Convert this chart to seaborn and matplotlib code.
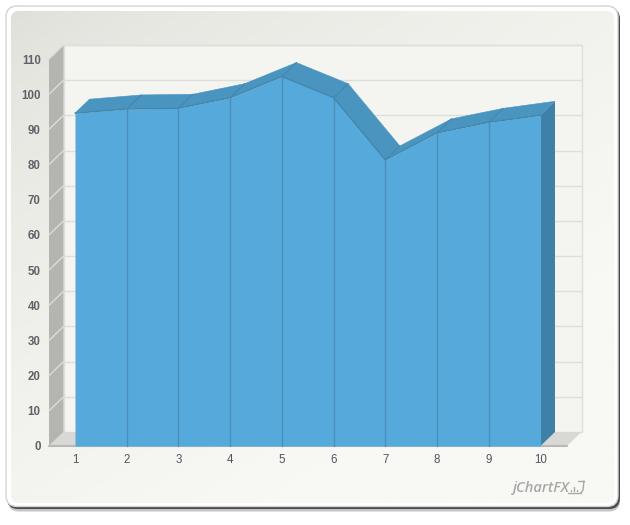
import numpy as np
import pandas as pd
import seaborn as sns
import matplotlib
matplotlib.use("Agg")
import matplotlib.pyplot as plt
from matplotlib.patches import FancyBboxPatch, Polygon, Rectangle

categories = [1, 2, 3, 4, 5, 6, 7, 8, 9, 10]
values = [94.6, 95.8, 96.0, 99.0, 105.0, 99.0, 81.3, 89.0, 92.0, 94.0]
y_ticks = list(range(0, 111, 10))

W, H = 630, 525
sns.set_theme(style="white")
plt.rcParams["font.family"] = ["Liberation Sans", "DejaVu Sans"]

fig = plt.figure(figsize=(W / 100, H / 100), dpi=100, facecolor="white")


def fx(px):
    return px / W


def fy(py):
    return 1 - py / H


# Panel background in a full-figure axes working in pixels
bg = fig.add_axes([0, 0, 1, 1], zorder=0)
bg.axis("off")
box = dict(boxstyle="round,pad=0,rounding_size=11")
bg.add_patch(FancyBboxPatch((8, 10), 612, 501.5, fc="#c4c4c4", ec="none", zorder=1, **box))
bg.add_patch(FancyBboxPatch((7, 8), 613, 501, fc="#4a4a4a", ec="none", zorder=1.1, **box))
bg.add_patch(FancyBboxPatch((6, 6), 612, 500.5, fc="white", ec="#d4d4d4", lw=1, zorder=1.2, **box))
inner = FancyBboxPatch((11, 11), 603, 492, fc="none", ec="none", zorder=1.3,
                       boxstyle="round,pad=0,rounding_size=8")
bg.add_patch(inner)
gy, gx = np.mgrid[0:1:200j, 0:1:200j]
t = np.clip(0.62 * gx + 0.75 * gy, 0, 1) ** 0.55
c0, c1 = np.array([222, 222, 216]) / 255, np.array([248, 248, 244]) / 255
grad = c0[None, None, :] + (c1 - c0)[None, None, :] * t[..., None]
im = bg.imshow(grad, extent=(11, 614, 503, 11), aspect="auto", interpolation="bilinear", zorder=1.4)
im.set_clip_path(inner)
bg.set_xlim(0, W)
bg.set_ylim(H, 0)

# Watermark
bg.text(513, 488, "jChartFX", fontsize=10.5, style="italic", weight="semibold", color="#a8a8a8",
        va="center", ha="left", family="Open Sans", zorder=3)
wm = dict(color="#a8a8a8", lw=1, zorder=3)
bg.plot([568, 581], [493, 493], **wm)
bg.plot([581, 583, 584], [493, 490, 481], **wm)
bg.plot([578, 584], [481, 481], **wm)
for bx, bt in zip([571, 574, 577], [490, 487, 490]):
    bg.plot([bx, bx], [491, bt], **wm)

# Chart axes = front plane of the 3D box
left, right, top, bottom = 49, 567, 59, 446
ax = fig.add_axes([fx(left), fy(bottom), (right - left) / W, (bottom - top) / H], zorder=1)
ax.patch.set_alpha(0)
px_x = 51.72
x_first = 75.0
ax.set_xlim(1 - (x_first - left) / px_x, 1 + (right - x_first) / px_x)
ax.set_ylim(0, 110)
px_y = (bottom - top) / 110
dx, dy = 14.5 / px_x, 14 / px_y
x0, x1 = ax.get_xlim()

wall_kw = dict(clip_on=False)
ax.add_patch(Rectangle((x0 + dx, dy), x1 - x0, 110, fc="#f4f4f0", ec="#dededa", lw=1, zorder=1, **wall_kw))
ax.add_patch(Polygon([(x0, 0), (x0 + dx, dy), (x0 + dx, 110 + dy), (x0, 110)],
                     fc="#b4b4b1", ec="none", zorder=2, **wall_kw))
ax.add_patch(Polygon([(x0, 0), (x1, 0), (x1 + dx, dy), (x0 + dx, dy)],
                     fc="#d8d8d4", ec="none", zorder=2, **wall_kw))
for v in y_ticks[1:]:
    ax.plot([x0 + dx, x1 + dx], [v + dy, v + dy], color="#dededa", lw=1, zorder=1.5, clip_on=False)
    ax.plot([x0, x0 + dx], [v, v + dy], color="#dcdcd8", lw=1, zorder=3, clip_on=False)
ax.plot([x0, x1], [0, 0], color="#b8b8b4", lw=1.5, zorder=3, clip_on=False)

df = pd.DataFrame({"x": categories, "y": values})
xs = np.array(categories, dtype=float)
ys = np.array(values, dtype=float)
blue, top_blue, side_blue, edge_blue = "#56aadb", "#4a94c0", "#3f80a8", "#4a8fb8"

# Right side
ax.add_patch(Polygon([(xs[-1], 0), (xs[-1] + dx, dy), (xs[-1] + dx, ys[-1] + dy), (xs[-1], ys[-1])],
                     fc=side_blue, ec="none", zorder=4, **wall_kw))
# Top surface
for a, b in zip(range(len(xs) - 1), range(1, len(xs))):
    ax.add_patch(Polygon([(xs[a], ys[a]), (xs[b], ys[b]), (xs[b] + dx, ys[b] + dy), (xs[a] + dx, ys[a] + dy)],
                         fc=top_blue, ec=top_blue, lw=0.4, zorder=4, **wall_kw))
for xv, yv in zip(xs[1:-1], ys[1:-1]):
    ax.plot([xv, xv + dx], [yv, yv + dy], color="#4287ae", lw=0.8, zorder=4.5, clip_on=False)
# Front area
ax.fill_between(xs, 0, ys, color=blue, lw=0, zorder=5, clip_on=False)
for xv, yv in zip(xs[1:-1], ys[1:-1]):
    ax.plot([xv, xv], [0, yv], color=edge_blue, lw=1, zorder=6, clip_on=False)
sns.lineplot(data=df, x="x", y="y", ax=ax, color="#4287ae", lw=1, zorder=6, clip_on=False)

ax.set_xlabel("")
ax.set_ylabel("")
ax.set_xticks(categories)
ax.set_xticklabels([str(c) for c in categories])
ax.set_yticks(y_ticks)
ax.set_yticklabels([str(v) for v in y_ticks])
ax.tick_params(axis="x", length=0, pad=6, labelsize=8.3, labelcolor="#4f5560")
ax.tick_params(axis="y", length=4, width=1, color="#d8d8d4", pad=2, labelsize=8.3, labelcolor="#5f6367")
for lab in ax.get_yticklabels():
    lab.set_fontweight("bold")
for s in ax.spines.values():
    s.set_visible(False)

fig.savefig("out.png", dpi=100)
